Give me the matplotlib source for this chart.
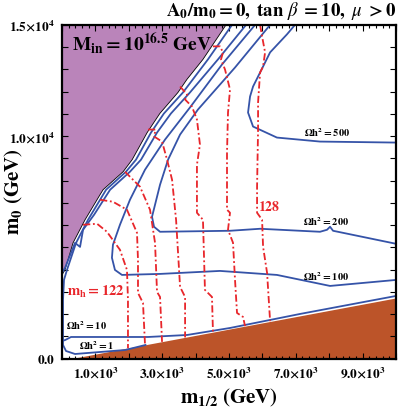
import matplotlib
matplotlib.use("Agg")
import matplotlib.pyplot as plt
from matplotlib.ticker import MultipleLocator, FuncFormatter

plt.rcParams['mathtext.fontset'] = 'stix'
plt.rcParams['font.family'] = ['Liberation Serif', 'DejaVu Serif']

# ---------------- data (GeV) ----------------
purple_m12 = [0, 90, 330, 690, 1140, 1230, 1830, 2100, 2550, 2930, 3470, 3740, 4220, 4910]
purple_m0 = [3760, 3990, 5200, 6240, 7370, 7590, 8400, 8940, 10160, 11020, 11960, 12550, 13450, 15000]

brown_m12 = [380, 10000]
brown_m0 = [0, 2700]

om1_m12 = [5090, 4370, 3620, 3050, 2665, 2215, 1915, 1320, 780, 420, 150, 60, 30, 30, 120, 390, 1140, 1890, 2500]
om1_m0 = [15000, 13450, 11960, 11015, 10160, 8940, 8400, 7590, 6240, 5200, 3990, 3540, 2635, 610, 340, 205, 295, 385, 610]

om10a_m12 = [5510, 4670, 3830, 3260, 2845, 2365, 2035, 1440, 960, 630, 540, 390, 90, 0]
om10a_m0 = [15000, 13450, 11960, 11015, 10160, 8940, 8400, 7590, 6465, 5790, 5020, 5200, 4080, 3850]
om10b_m12 = [0, 90, 270, 1380, 2575, 3745, 5030, 7125, 10000]
om10b_m0 = [790, 830, 970, 970, 970, 1060, 1375, 2005, 2815]

om100_m12 = [5780, 4790, 3830, 3085, 2485, 2035, 1735, 1525, 1495, 1585, 1795, 2935, 4730, 6435, 8025, 10000]
om100_m0 = [15000, 13220, 11285, 9845, 8490, 7140, 6015, 5115, 4530, 3985, 3760, 3805, 3940, 3760, 3265, 3535]

om200_m12 = [6230, 5180, 4070, 3535, 3175, 2935, 2785, 2695, 2755, 2935, 5030, 5930, 7725, 7935, 8025, 8115, 10000]
om200_m0 = [15000, 13085, 11195, 10070, 8940, 7815, 6915, 6375, 5925, 5700, 5745, 5835, 5700, 5790, 5925, 5745, 5160]

om500_m12 = [6975, 6735, 6230, 6020, 5720, 5630, 5570, 5720, 6435, 7725, 10000]
om500_m0 = [15000, 14575, 13765, 13130, 12230, 11780, 11060, 10430, 9935, 9755, 9710]

mh122_m12 = [630, 1050, 1345, 1735, 1945, 1975, 1975]
mh122_m0 = [6015, 6060, 5700, 4890, 3985, 2635, 470]
mh123_m12 = [1140, 1525, 1945, 2245, 2275, 2275, 2425, 2485]
mh123_m0 = [7140, 7050, 6690, 5655, 4435, 2950, 2500, 620]
mh124_m12 = [1885, 2335, 2635, 2785, 2845, 2935, 2995]
mh124_m0 = [8400, 7725, 6690, 5205, 2995, 2770, 750]
mh125_m12 = [2575, 2800, 2760, 2995, 3145, 3295, 3415, 3535, 3685, 3685]
mh125_m0 = [10295, 10295, 9980, 9755, 8940, 8040, 6240, 3220, 2770, 950]
mh126_m12 = [3535, 3745, 3685, 3890, 4040, 4130, 4040, 4040, 4220, 4280, 4490, 4520]
mh126_m0 = [12230, 11870, 11645, 11330, 10745, 9620, 8715, 6555, 6240, 3085, 2770, 1180]
mh127_m12 = [4520, 4730, 4820, 4760, 4880, 5030, 4970, 4940, 4940, 5030, 4970, 5120, 5180, 5240, 5420, 5480]
mh127_m0 = [14035, 14035, 13765, 13445, 12995, 12095, 11060, 9260, 6690, 6555, 5790, 5205, 3535, 2050, 1870, 1460]
mh128_m12 = [5930, 5990, 6080, 6020, 5930, 5870, 5870, 5840, 5840, 5990, 6020, 6140, 6230]
mh128_m0 = [15000, 14485, 13765, 13130, 12860, 11510, 10295, 7725, 6555, 6240, 5025, 3850, 1680]

x_tick_labels = {1000: '1.0', 3000: '3.0', 5000: '5.0', 7000: '7.0', 9000: '9.0'}
y_tick_labels = {0: None, 10000: '1.0', 15000: '1.5'}

PURPLE = '#BA84BA'
BROWN = '#BC5429'
BLUE = '#3553A8'
RED = '#E8262B'

fig = plt.figure(figsize=(3.98, 4.15), dpi=100)
ax = fig.add_axes([0.1558, 0.136, 0.8392, 0.804])

# shaded regions
ax.fill(purple_m12 + [0], purple_m0 + [15000], color=PURPLE, lw=0, zorder=1)
ax.plot(purple_m12, purple_m0, color='black', lw=0.6, zorder=2)
ax.fill(brown_m12 + [10000], brown_m0 + [0], color=BROWN, lw=0, zorder=1)

# relic density contours
for xs, ys in [(om1_m12, om1_m0), (om10a_m12, om10a_m0), (om10b_m12, om10b_m0),
               (om100_m12, om100_m0), (om200_m12, om200_m0), (om500_m12, om500_m0)]:
    ax.plot(xs, ys, color=BLUE, lw=1.3, zorder=3)

# Higgs mass contours
for xs, ys in [(mh122_m12, mh122_m0), (mh123_m12, mh123_m0), (mh124_m12, mh124_m0),
               (mh125_m12, mh125_m0), (mh126_m12, mh126_m0), (mh127_m12, mh127_m0),
               (mh128_m12, mh128_m0)]:
    ax.plot(xs, ys, color=RED, lw=1.3, dashes=(4, 1.5, 1, 1.5), zorder=4)

ax.set_xlim(0, 10000)
ax.set_ylim(0, 15000)

# labels inside
ax.text(7930, 10160, r'$\mathbf{\Omega h^2 = 500}$', fontsize=7.5, ha='center', va='center', zorder=5)
ax.text(7900, 6150, r'$\mathbf{\Omega h^2 = 200}$', fontsize=7.5, ha='center', va='center', zorder=5)
ax.text(7900, 3670, r'$\mathbf{\Omega h^2 = 100}$', fontsize=7.5, ha='center', va='center', zorder=5)
ax.text(720, 1465, r'$\mathbf{\Omega h^2 = 10}$', fontsize=7.5, ha='center', va='center', zorder=5)
ax.text(1050, 565, r'$\mathbf{\Omega h^2 = 1}$', fontsize=7.5, ha='center', va='center', zorder=5)
ax.text(1020, 3000, r'$\mathbf{m_h = 122}$', fontsize=10.5, color=RED, ha='center', va='center', zorder=5)
ax.text(6200, 6830, r'$\mathbf{128}$', fontsize=10, color=RED, ha='center', va='center', zorder=5)
ax.text(300, 14120, r'$\mathbf{M_{in} = 10^{16.5}\ GeV}$', fontsize=14, ha='left', va='center', zorder=5)

# title
ax.text(1.0, 1.01, r'$\mathbf{A_0/m_0 = 0,\ tan}\ \beta\ \mathbf{= 10,}\ \mu\ \mathbf{> 0}$',
        transform=ax.transAxes, fontsize=13.5, ha='right', va='bottom')

# ticks
ax.xaxis.set_major_locator(MultipleLocator(1000))
ax.xaxis.set_minor_locator(MultipleLocator(200))
ax.yaxis.set_major_locator(MultipleLocator(1000))

def xfmt(v, pos):
    k = int(round(v))
    if k in x_tick_labels:
        return r'$\mathbf{%s{\times}10^3}$' % x_tick_labels[k]
    return ''

def yfmt(v, pos):
    k = int(round(v))
    if k in y_tick_labels:
        if y_tick_labels[k] is None:
            return r'$\mathbf{0.0}$'
        return r'$\mathbf{%s{\times}10^4}$' % y_tick_labels[k]
    return ''

ax.xaxis.set_major_formatter(FuncFormatter(xfmt))
ax.yaxis.set_major_formatter(FuncFormatter(yfmt))
ax.tick_params(which='both', direction='in', top=True, right=True, width=0.8)
ax.tick_params(which='major', length=4, labelsize=9.5, pad=5)
ax.tick_params(which='minor', length=2)
for s in ax.spines.values():
    s.set_linewidth(1.6)
    s.set_zorder(6)

ax.set_xlabel(r'$\mathbf{m_{1/2}\ (GeV)}$', fontsize=15, labelpad=5)
ax.set_ylabel(r'$\mathbf{m_0\ (GeV)}$', fontsize=15)
ax.yaxis.set_label_coords(-0.112, 0.5)

fig.savefig('out.png', dpi=100)
